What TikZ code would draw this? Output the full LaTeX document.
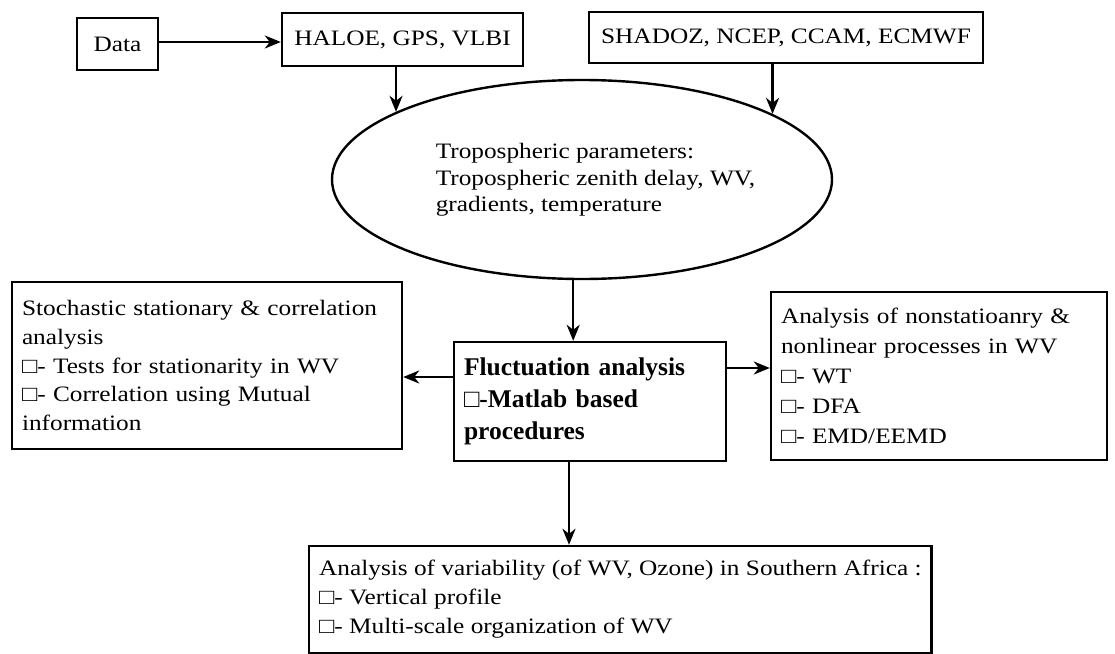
\documentclass[tikz,border=0pt]{standalone}
\usepackage{fontspec}
\setmainfont{Liberation Serif}[FakeStretch=1.15]
\newfontfamily\bfam{Liberation Serif}
\usetikzlibrary{shapes.geometric,arrows.meta}
\tikzset{
  box/.style={draw, line width=2.4pt, inner xsep=10pt, inner ysep=0pt, align=left},
  arr/.style={line width=2.4pt, -{Stealth[length=16pt,width=13pt,inset=5pt]}},
  reg/.style={font=\fontsize{22}{28.7}\selectfont},
}
\begin{document}
\begin{tikzpicture}[x=1pt,y=-1pt]
\useasboundingbox[fill=white] (0,0) rectangle (1115,653);
\node[box, reg, align=center, inner xsep=0pt, minimum width=81pt, minimum height=52pt] (data) at (117.5,44) {Data};
\node[box, reg, align=center, inner xsep=0pt, minimum width=241pt, minimum height=53pt] (haloe) at (402.5,39.5) {HALOE, GPS, VLBI};
\node[box, reg, align=center, inner xsep=0pt, minimum width=394pt, minimum height=51pt] (shadoz) at (786,37.5) {SHADOZ, NCEP, CCAM, ECMWF};
\node[draw, ellipse, line width=2.4pt, inner sep=0pt, minimum width=500pt, minimum height=199pt] (ell) at (582,179.5) {};
\node[align=left, font=\fontsize{22}{26.5}\selectfont] (elltext) at (595.5,180) {Tropospheric parameters:\\Tropospheric zenith delay, WV,\\gradients, temperature};
\node[box, reg, text width=370pt, minimum height=167pt] (left) at (207,365.5) {Stochastic stationary \& correlation\\analysis\\□- Tests for stationarity in WV\\□- Correlation using Mutual\\information\par\vspace{10pt}};
\node[box, text width=252pt, minimum height=119pt, font=\bfam\bfseries\fontsize{25.5}{31.7}\selectfont] (mid) at (590,401.5) {Fluctuation analysis\\□-Matlab based\\procedures};
\node[box, text width=316pt, minimum height=168pt, font=\fontsize{22}{30}\selectfont] (right) at (939,376) {Analysis of nonstatioanry \&\\nonlinear processes in WV\\□- WT\\□- DFA\\□- EMD/EEMD};
\node[box, anchor=west, minimum height=107pt, font=\fontsize{22}{29}\selectfont] (bot) at (308,599.5) {Analysis of variability (of WV, Ozone) in Southern Africa :\\□- Vertical profile\\□- Multi-scale organization of WV};
\draw[arr] ([yshift=2pt]data.east) -- ([yshift=2pt]data.east -| haloe.west);
\draw[arr] (haloe.south -| ell.160) -- (ell.160);
\draw[arr] (shadoz.south -| ell.19) -- (ell.19);
\draw[arr] (ell.265) -- (ell.265 |- mid.north);
\draw[arr] ([yshift=24.5pt]mid.west) -- ([yshift=24.5pt]mid.west -| left.east);
\draw[arr] ([yshift=33.5pt]mid.east) -- ([yshift=33.5pt]mid.east -| right.west);
\draw[arr] ([xshift=-21pt]mid.south) -- ([xshift=-21pt]mid.south |- bot.north);
\end{tikzpicture}
\end{document}
